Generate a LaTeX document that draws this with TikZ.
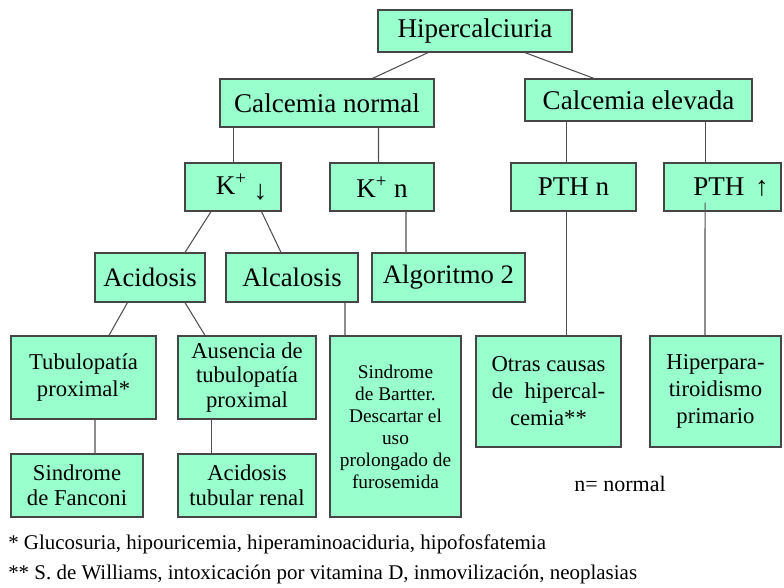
\documentclass[tikz,border=0pt]{standalone}
\usepackage{fontspec}
\setmainfont{Liberation Serif}
\definecolor{boxfill}{RGB}{153,255,204}
\definecolor{boxline}{RGB}{70,70,70}
\definecolor{wirecol}{RGB}{80,80,80}
\begin{document}
\begin{tikzpicture}[x=0.75pt,y=-0.75pt,
  box/.style={draw=boxline, line width=0.9pt, fill=boxfill, inner sep=0pt, align=center, text=black},
  big/.style={font=\fontsize{20.3}{22}\selectfont},
  mid/.style={font=\fontsize{20}{22}\selectfont},
  small/.style={font=\fontsize{17}{20.2}\selectfont},
  smallb/.style={font=\fontsize{17}{18.6}\selectfont},
  tiny/.style={font=\fontsize{14.5}{16.5}\selectfont},
  note/.style={font=\fontsize{15.7}{17}\selectfont, inner sep=0pt, anchor=base west},
  wire/.style={draw=wirecol, line width=0.8pt}]
\useasboundingbox (0,0) rectangle (784,587);
% level 1-2
\node[box,big,minimum width=145.5pt,minimum height=31.5pt] (hip) at (475,31) {Hipercalciuria};
\node[box,big,minimum width=160.5pt,minimum height=36pt] (cn) at (327,103) {Calcemia normal};
\node[box,big,minimum width=170.25pt,minimum height=31.5pt] (ce) at (638.5,100) {Calcemia elevada};
% level 3
\node[box,big,minimum width=72pt,minimum height=36pt] (kd) at (233,187) {\hspace*{12.75pt}K\textsuperscript{+} \raisebox{-4pt}{↓}};
\node[box,big,minimum width=78pt,minimum height=36pt] (kn) at (382,187) {K\textsuperscript{+} n};
\node[box,big,minimum width=93.75pt,minimum height=36pt] (pn) at (573.5,187) {PTH n};
\node[box,big,minimum width=87.75pt,minimum height=36pt] (pu) at (722.5,187) {\hspace*{12.75pt}PTH\hspace{0.4em}↑};
% level 4
\node[box,mid,minimum width=82.5pt,minimum height=36.75pt] (acid) at (150,277.5) {Acidosis};
\node[box,mid,minimum width=99pt,minimum height=36.75pt] (alca) at (292,277.5) {Alcalosis};
\node[box,mid,minimum width=114.75pt,minimum height=36.75pt] (alg) at (448.5,277.5) {Algoritmo 2};
% level 5
\node[box,small,minimum width=108.75pt,minimum height=62.25pt] (tub) at (83.5,377.5) {Tubulopatía\\proximal*};
\node[box,smallb,minimum width=103.5pt,minimum height=62.25pt] (aus) at (247,377.5) {Ausencia de\\tubulopatía\\proximal};
\node[box,tiny,minimum width=98.25pt,minimum height=135.75pt] (bart) at (395.5,426.5) {Sindrome\\de Bartter.\\Descartar el\\uso\\prolongado de\\furosemida};
\node[box,small,minimum width=108.75pt,minimum height=83.25pt] (otras) at (548.5,391.5) {Otras causas\\de\ \ hipercal-\\cemia**};
\node[box,small,minimum width=98.25pt,minimum height=83.25pt] (hpp) at (715.5,391.5) {Hiperpara-\\tiroidismo\\primario};
% level 6
\node[box,smallb,minimum width=99pt,minimum height=47.25pt] (fan) at (77,485.5) {Sindrome\\de Fanconi};
\node[box,smallb,minimum width=103.5pt,minimum height=47.25pt] (atr) at (247,485.5) {Acidosis\\tubular renal};
% texts
\node[font=\fontsize{16.5}{18}\selectfont,inner sep=0pt,anchor=base] (nn) at (620,491) {n= normal};
\node[note] (f1) at (8,549) {* Glucosuria, hipouricemia, hiperaminoaciduria, hipofosfatemia};
\node[note] (f2) at (8,579) {** S. de Williams, intoxicación por vitamina D, inmovilización, neoplasias};
% connectors
\draw[wire] ([xshift=-35.25pt]hip.south) -- ([xshift=34.1pt]cn.north);
\draw[wire] ([xshift=37.5pt]hip.south) -- ([xshift=-33.4pt]ce.north);
\draw[wire] ([xshift=-70.1pt]cn.south) -- ([xshift=0.4pt]kd.north);
\draw[wire] ([xshift=38.6pt]cn.south) -- ([xshift=-2.6pt]kn.north);
\draw[wire] ([xshift=-54pt]ce.south) -- ([xshift=-5.25pt]pn.north);
\draw[wire] ([xshift=49.9pt]ce.south) -- ([xshift=-13.1pt]pu.north);
\draw[wire] ([xshift=-16.5pt]kd.south) -- ([xshift=26.25pt]acid.north);
\draw[wire] ([xshift=21.4pt]kd.south) -- ([xshift=-8.25pt]alca.north);
\draw[wire] ([xshift=18pt]kn.south) -- ([xshift=-31.9pt]alg.north);
\draw[wire] ([xshift=-16.9pt]acid.south) -- ([xshift=19.1pt]tub.north);
\draw[wire] ([xshift=26.25pt]acid.south) -- ([xshift=-31.5pt]aus.north);
\draw[wire] ([xshift=39.75pt]alca.south) -- ([xshift=-37.9pt]bart.north);
\draw[wire] ([xshift=8.6pt]tub.south) -- ([xshift=13.5pt]fan.north);
\draw[wire] ([xshift=-26.6pt]aus.south) -- ([xshift=-26.6pt]atr.north);
\draw[wire] ([xshift=-5.25pt]pn.south) -- ([xshift=13.5pt]otras.north);
\draw[wire] ([xshift=-13.1pt,yshift=6.75pt]pu.south) -- ([xshift=-7.9pt]hpp.north);
\end{tikzpicture}
\end{document}
